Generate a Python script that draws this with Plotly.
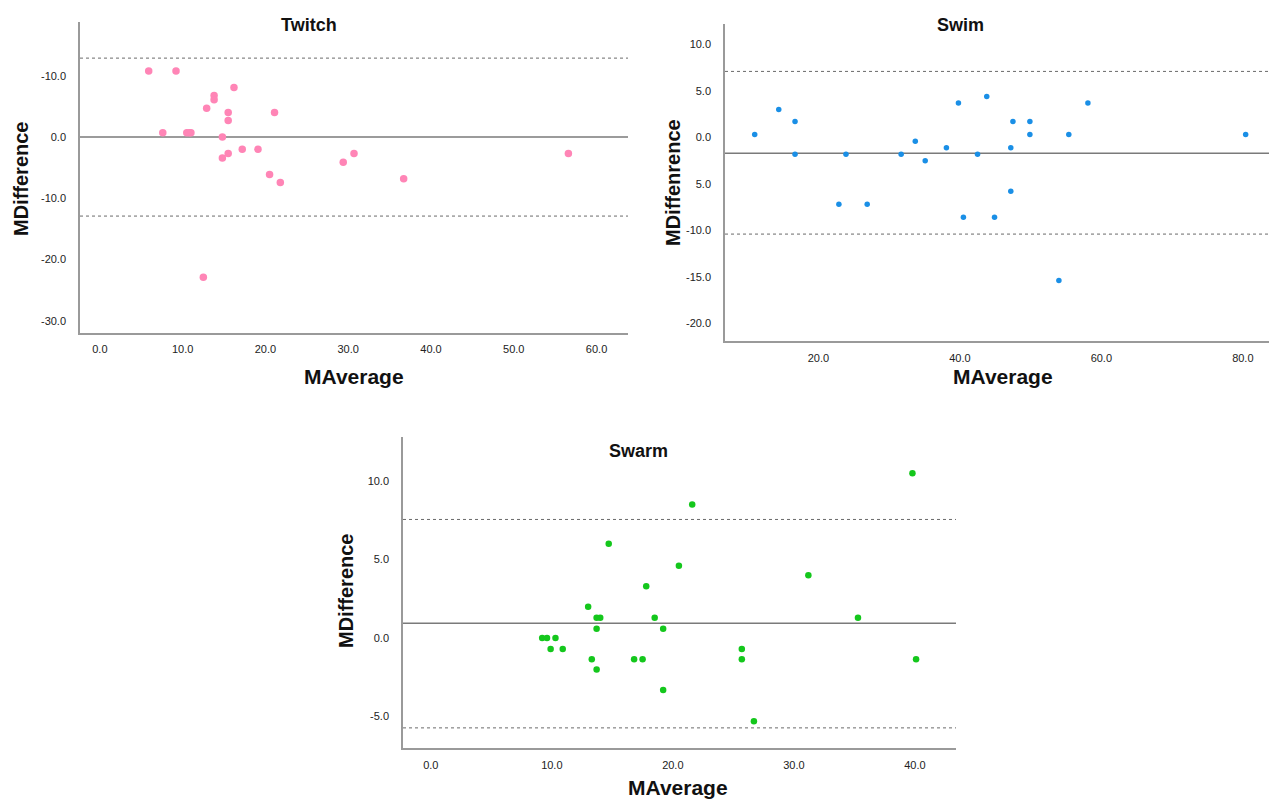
import plotly.graph_objects as go

# ---------------- data ----------------
twitch_avg = [5.9, 9.2, 16.2, 13.8, 13.8, 12.9, 15.5, 21.1, 15.5, 7.6, 10.5, 10.8, 11.0,
              14.8, 17.2, 19.1, 15.5, 14.8, 30.7, 29.4, 20.5, 21.8, 36.7, 56.6, 12.5]
twitch_diff = [10.8, 10.8, 8.1, 6.8, 6.1, 4.7, 4.0, 4.0, 2.7, 0.7, 0.7, 0.7, 0.7,
               0.0, -2.0, -2.0, -2.7, -3.4, -2.7, -4.1, -6.1, -7.4, -6.8, -2.7, -22.9]
twitch_mean = 0.0
twitch_loa = [-12.9, 12.9]

swim_avg = [11.0, 14.4, 16.7, 16.7, 22.9, 23.9, 26.9, 31.7, 33.7, 35.1, 38.1, 39.8, 40.5,
            42.5, 43.8, 44.9, 47.2, 47.2, 47.5, 49.9, 49.9, 54.0, 55.4, 58.1, 80.4]
swim_diff = [0.3, 3.0, 1.7, -1.8, -7.2, -1.8, -7.2, -1.8, -0.4, -2.5, -1.1, 3.7, -8.6,
             -1.8, 4.4, -8.6, -1.1, -5.8, 1.7, 1.7, 0.3, -15.4, 0.3, 3.7, 0.3]
swim_mean = -1.7
swim_loa = [-10.4, 7.1]

swarm_avg = [39.8, 21.6, 14.7, 20.5, 31.2, 17.8, 13.0, 13.7, 14.0, 18.5, 35.3, 13.7, 19.2,
             9.2, 9.6, 10.3, 9.9, 10.9, 25.7, 13.3, 16.8, 17.5, 25.7, 40.1, 13.7, 19.2, 26.7]
swarm_diff = [10.5, 8.5, 6.0, 4.6, 4.0, 3.3, 2.0, 1.3, 1.3, 1.3, 1.3, 0.6, 0.6,
              0.0, 0.0, 0.0, -0.7, -0.7, -0.7, -1.35, -1.35, -1.35, -1.35, -1.35, -2.0, -3.3, -5.3]
swarm_mean = 0.95
swarm_loa = [-5.72, 7.55]

twitch_xticks = [0, 10, 20, 30, 40, 50, 60]
twitch_yticks = [10, 0, -10, -20, -30]
twitch_yticktext = ["-10.0", "0.0", "-10.0", "-20.0", "-30.0"]

swim_xticks = [20, 40, 60, 80]
swim_yticks = [10, 5, 0, -5, -10, -15, -20]
swim_yticktext = ["10.0", "5.0", "0.0", "5.0", "-10.0", "-15.0", "-20.0"]

swarm_xticks = [0, 10, 20, 30, 40]
swarm_yticks = [10, 5, 0, -5]
swarm_yticktext = ["10.0", "5.0", "0.0", "-5.0"]

W, H = 1271, 799
FONT = "Liberation Sans, Arial, sans-serif"

fig = go.Figure()
fig.add_trace(go.Scatter(x=twitch_avg, y=twitch_diff, mode="markers", xaxis="x", yaxis="y",
                         marker=dict(color="#ff85b6", size=7.5, line=dict(width=0))))
fig.add_trace(go.Scatter(x=swim_avg, y=swim_diff, mode="markers", xaxis="x2", yaxis="y2",
                         marker=dict(color="#1a8fe6", size=5.5, line=dict(width=0))))
fig.add_trace(go.Scatter(x=swarm_avg, y=swarm_diff, mode="markers", xaxis="x3", yaxis="y3",
                         marker=dict(color="#14c71c", size=6.5, line=dict(width=0))))


def px_x(p):
    return p / W


def px_y(p):
    return 1 - p / H


axis_common = dict(showgrid=False, zeroline=False, showline=True, linecolor="#9a9a9a",
                   linewidth=1.5, ticks="", tickfont=dict(family=FONT, size=11, color="#222222"),
                   tickformat=".1f", mirror=False)

fig.update_layout(
    width=W, height=H, margin=dict(l=0, r=0, t=0, b=0),
    paper_bgcolor="white", plot_bgcolor="white", showlegend=False,
    xaxis=dict(axis_common, domain=[px_x(80), px_x(628)], range=[-2.4, 63.8], anchor="y",
               tickvals=twitch_xticks, ticklabelstandoff=5),
    yaxis=dict(axis_common, domain=[px_y(333), px_y(22)], range=[-32.0, 18.8], anchor="x",
               tickvals=twitch_yticks, ticktext=twitch_yticktext, ticklabelstandoff=10),
    xaxis2=dict(axis_common, domain=[px_x(725), px_x(1269)], range=[6.8, 83.7], anchor="y2",
                tickvals=swim_xticks, ticklabelstandoff=6),
    yaxis2=dict(axis_common, domain=[px_y(341), px_y(24)], range=[-21.9, 12.2], anchor="x2",
                tickvals=swim_yticks, ticktext=swim_yticktext, ticklabelstandoff=10),
    xaxis3=dict(axis_common, domain=[px_x(403), px_x(956)], range=[-2.3, 43.4], anchor="y3",
                tickvals=swarm_xticks, ticklabelstandoff=6),
    yaxis3=dict(axis_common, domain=[px_y(748), px_y(437)], range=[-7.0, 12.8], anchor="x3",
                tickvals=swarm_yticks, ticktext=swarm_yticktext, ticklabelstandoff=10),
)

panels = [("x", "y", twitch_mean, twitch_loa), ("x2", "y2", swim_mean, swim_loa),
          ("x3", "y3", swarm_mean, swarm_loa)]
for xr, yr, m, loa in panels:
    fig.add_shape(type="line", xref=f"{xr} domain", yref=yr, x0=0, x1=1, y0=m, y1=m,
                  line=dict(color="#7a7a7a", width=1.5), layer="below")
    for v in loa:
        fig.add_shape(type="line", xref=f"{xr} domain", yref=yr, x0=0, x1=1, y0=v, y1=v,
                      line=dict(color="#6a6a6a", width=1, dash="dot"), layer="below")

texts = [
    ("Twitch", 309, 25, 18, 0), ("Swim", 960, 25, 18, 0), ("Swarm", 638, 451, 18, 0),
    ("MAverage", 354, 377, 21, 0), ("MAverage", 1003, 376, 21, 0), ("MAverage", 678, 787, 21, 0),
    ("MDifference", 21, 179, 20, -90), ("MDiffenrence", 673, 183, 20, -90),
    ("MDifference", 346, 591, 20, -90),
]
for t, x, y, s, ang in texts:
    fig.add_annotation(text=f"<b>{t}</b>", xref="paper", yref="paper", x=px_x(x), y=px_y(y),
                       xanchor="center", yanchor="middle", showarrow=False, textangle=ang,
                       font=dict(family=FONT, size=s, color="#111111"))

fig.write_html("out.html", config={"displayModeBar": False},
               post_script="document.body.style.margin='0';document.body.style.overflow='hidden';")
